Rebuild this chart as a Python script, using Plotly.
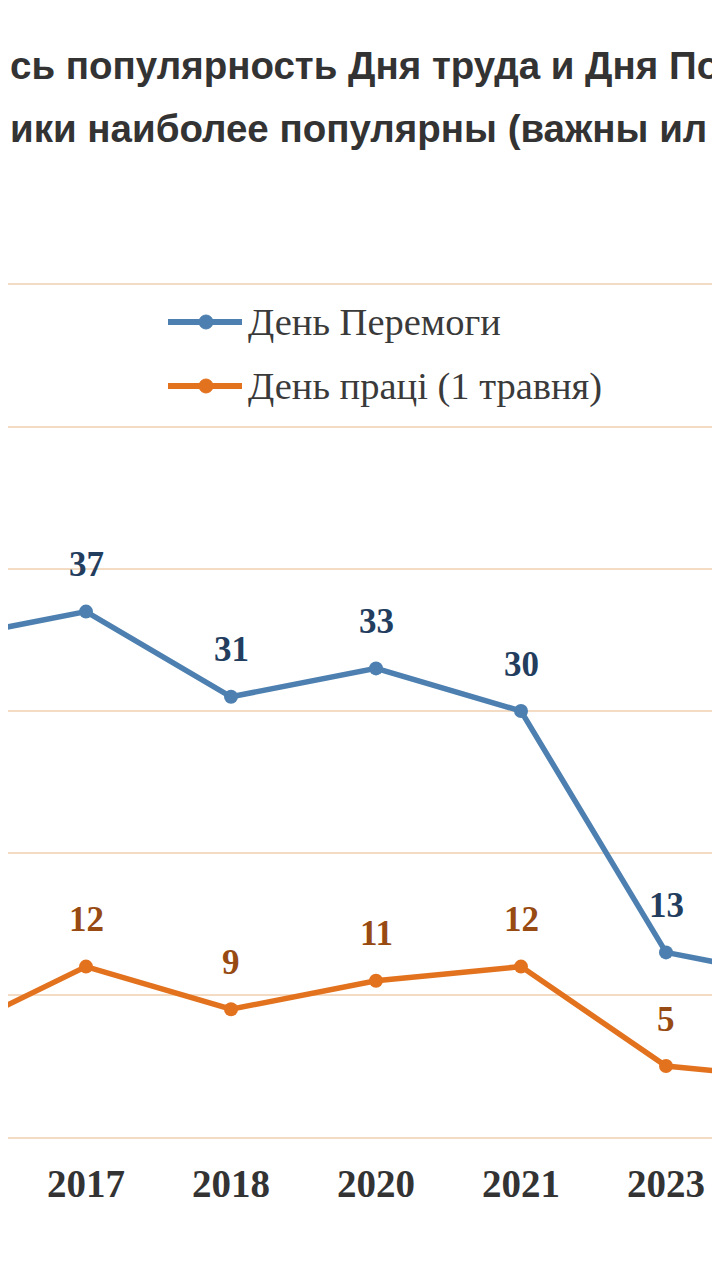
import plotly.graph_objects as go

# survey years (first and last ones are cut off by the crop)
years = ["2016", "2017", "2018", "2020", "2021", "2023", "2024"]
victory_day = [35, 37, 31, 33, 30, 13, 11]
labour_day = [7, 12, 9, 11, 12, 5, 4]
series_names = ["День Перемоги", "День праці (1 травня)"]
title_lines = [
    "сь популярность Дня труда и Дня По",
    "ики наиболее популярны (важны ил",
]

BLUE = "#4d80b0"
ORANGE = "#e3721f"
BLUE_TXT = "#223d5e"
ORANGE_TXT = "#974a12"
GRID = "#f3dcc3"

W, H = 720, 1280
OFF = 8  # page body margin
TOP, BOTTOM = 285 - OFF, 1280 - (1137 - OFF)
plot_h = H - TOP - BOTTOM


def py2paper(py):
    # page pixel row -> paper fraction
    return (1137 - py) / plot_h


def px2paper(px):
    return (px - OFF) / W


fig = go.Figure()

for name, vals, col, tcol in [
    (series_names[0], victory_day, BLUE, BLUE_TXT),
    (series_names[1], labour_day, ORANGE, ORANGE_TXT),
]:
    fig.add_scatter(
        x=years, y=vals, name=name, mode="lines+markers",
        line=dict(color=col, width=5.5), marker=dict(color=col, size=14),
        showlegend=False,
    )
    for i, v in enumerate(vals):
        fig.add_annotation(
            x=i, y=v, text=str(v), showarrow=False, yshift=47,
            font=dict(family="Liberation Serif", size=35, color=tcol, weight="bold"),
        )

# hand made legend (long line symbols like the original)
for i, (name, col) in enumerate(zip(series_names, [BLUE, ORANGE])):
    yy = py2paper(322 + i * 64)
    fig.add_shape(type="line", xref="paper", yref="paper", x0=px2paper(168),
                  x1=px2paper(242), y0=yy, y1=yy, line=dict(color=col, width=6))
    fig.add_shape(type="circle", xref="paper", yref="paper", xsizemode="pixel",
                  ysizemode="pixel", xanchor=px2paper(206), yanchor=yy,
                  x0=-7, x1=7, y0=-7, y1=7, fillcolor=col, line=dict(color=col, width=1))
    fig.add_annotation(x=px2paper(246), y=yy, xref="paper", yref="paper", text=name,
                       showarrow=False, xanchor="left", yanchor="middle",
                       font=dict(family="Liberation Serif", size=38.5, color="#3a3a3a"))

for i, line in enumerate(title_lines):
    fig.add_annotation(x=px2paper(OFF), y=py2paper(65 + i * 63), xref="paper", yref="paper",
                       text=line, showarrow=False, xanchor="left", yanchor="middle",
                       font=dict(family="Liberation Sans", size=38.5, color="#333333",
                                 weight="bold"))

r0 = 1 - (86 - OFF) / 145
fig.update_xaxes(
    type="category", range=[r0, r0 + W / 145], showgrid=False,
    showline=True, linecolor=GRID, linewidth=2, mirror=True,
    tickfont=dict(family="Liberation Serif", size=39, color="#333333", weight="bold"),
    ticklabelstandoff=11,
)
fig.update_yaxes(range=[0, 60], dtick=10, showgrid=True, gridcolor=GRID, gridwidth=2,
                 showticklabels=False, zeroline=False)
fig.update_layout(
    width=W, height=H, template="plotly_white", plot_bgcolor="white",
    paper_bgcolor="white", margin=dict(l=0, r=0, t=TOP, b=BOTTOM),
)
fig.write_html("out.html")
